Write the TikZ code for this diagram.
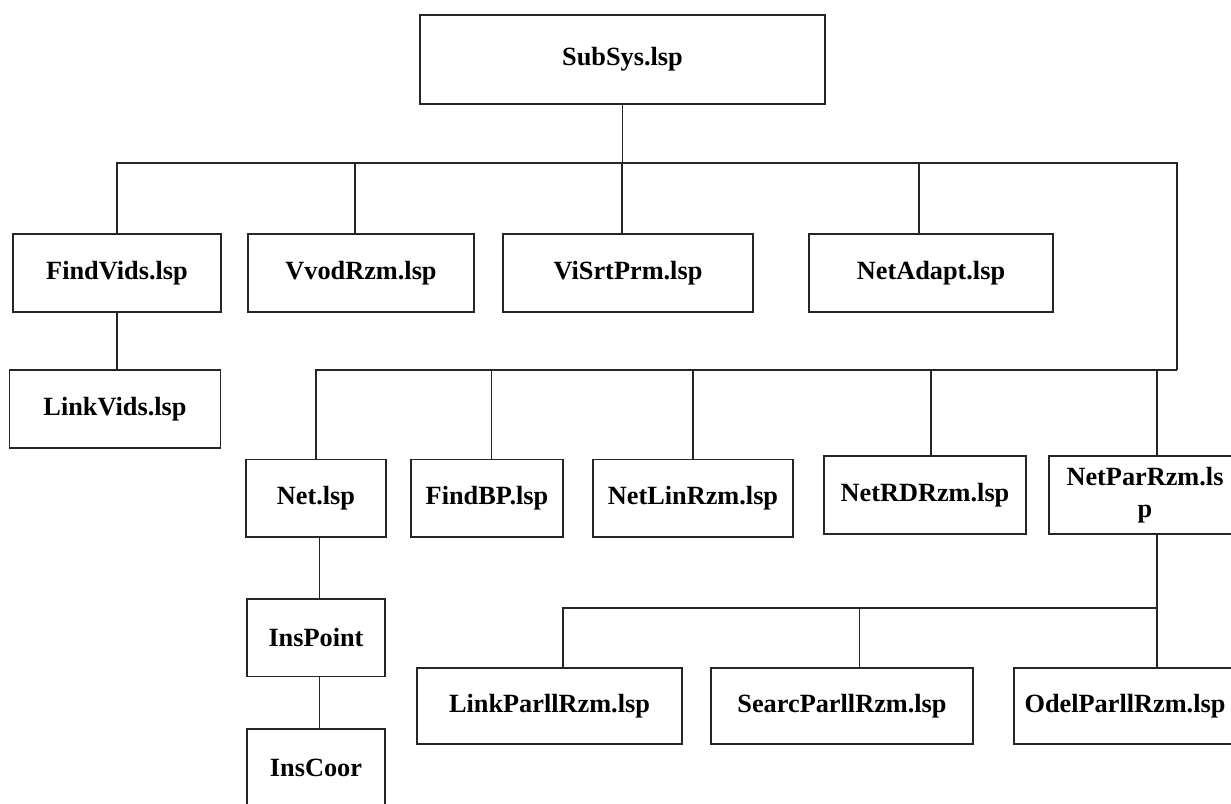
\documentclass[tikz,border=0pt]{standalone}
\usepackage{fontspec}
\newfontfamily\lspfont{Liberation Serif}
\tikzset{
  lspbox/.style={rectangle,draw=black!85,line width=1.8pt,fill=white,
    minimum height=77.5pt,inner sep=0pt,align=center,
    font=\lspfont\bfseries\fontsize{26.3}{32}\selectfont},
  link/.style={draw=black!85,line width=1.8pt}
}
\begin{document}
\begin{tikzpicture}[x=1pt,y=-1pt]
  \path[use as bounding box,fill=white] (0,0) rectangle (1231,803);
  \clip (0,0) rectangle (1231,803);

  \node[lspbox, minimum width=405pt, minimum height=89.3pt] (subsys) at (622.5,59.7) {SubSys.lsp};
  \node[lspbox, minimum width=208pt] (findvids) at (117,273) {FindVids.lsp};
  \node[lspbox, minimum width=226pt] (vvodrzm) at (361,273) {VvodRzm.lsp};
  \node[lspbox, minimum width=250pt] (visrtprm) at (628,273) {ViSrtPrm.lsp};
  \node[lspbox, minimum width=244pt] (netadapt) at (931,273) {NetAdapt.lsp};
  \node[lspbox, minimum width=211pt, minimum height=78.3pt] (linkvids) at (115,409.2) {LinkVids.lsp};
  \node[lspbox, minimum width=140pt] (net) at (316,498.2) {Net.lsp};
  \node[lspbox, minimum width=152pt] (findbp) at (487,498.2) {FindBP.lsp};
  \node[lspbox, minimum width=200pt] (netlinrzm) at (693,498.2) {NetLinRzm.lsp};
  \node[lspbox, minimum width=202pt, minimum height=78.3pt] (netrdrzm) at (925,495.2) {NetRDRzm.lsp};
  \node[lspbox, minimum width=192pt, minimum height=78.3pt] (netparrzm) at (1145,495.2) {NetParRzm.ls\\p};
  \node[lspbox, minimum width=138pt] (inspoint) at (316,637.7) {InsPoint};
  \node[lspbox, minimum width=138pt] (inscoor) at (316,768) {InsCoor};
  \node[lspbox, minimum width=265pt, minimum height=76.7pt] (linkparll) at (549.5,706) {LinkParllRzm.lsp};
  \node[lspbox, minimum width=262pt, minimum height=76.7pt] (searcparll) at (842,706) {SearcParllRzm.lsp};
  \node[lspbox, minimum width=222pt, minimum height=76.7pt] (odelparll) at (1125,706) {OdelParllRzm.lsp};

  \coordinate (bus1r) at (1177,163.3);
  \coordinate (bus2r) at (1177,370);
  \coordinate (bus3r) at (1157,608);

  \draw[link] (subsys.south) -- (subsys.south |- bus1r);
  \draw[link] (findvids.north) |- (bus1r) -- (bus2r);
  \draw[link] ([xshift=-6pt]vvodrzm.north) |- (bus1r);
  \draw[link] ([xshift=-6pt]visrtprm.north) |- (bus1r);
  \draw[link] ([xshift=-12pt]netadapt.north) |- (bus1r);
  \draw[link] (findvids.south) -- (findvids.south |- linkvids.north);

  \draw[link] (net.north) |- (bus2r);
  \draw[link] ([xshift=4.5pt]findbp.north) |- (bus2r);
  \draw[link] (netlinrzm.north) |- (bus2r);
  \draw[link] ([xshift=6pt]netrdrzm.north) |- (bus2r);
  \draw[link] ([xshift=12pt]netparrzm.north) |- (bus2r);

  \draw[link] ([xshift=3.5pt]net.south) -- ([xshift=3.5pt]inspoint.north);
  \draw[link] ([xshift=3.5pt]inspoint.south) -- ([xshift=3.5pt]inscoor.north);

  \draw[link] ([xshift=12pt]netparrzm.south) -- ([xshift=32pt]odelparll.north);
  \draw[link] ([xshift=13.5pt]linkparll.north) |- (bus3r);
  \draw[link] ([xshift=17.5pt]searcparll.north) |- (bus3r);
\end{tikzpicture}
\end{document}
